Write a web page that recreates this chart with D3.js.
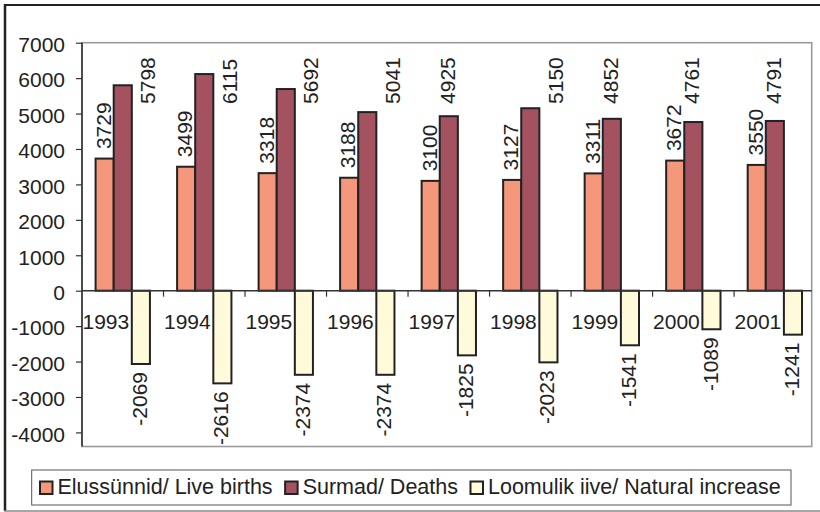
<!DOCTYPE html>
<html>
<head>
<meta charset="utf-8">
<script src="https://cdn.jsdelivr.net/npm/d3@7"></script>
<style>
  html, body { margin: 0; padding: 0; background: #fff; }
  svg { display: block; }
  text { font-family: "Liberation Sans", Arial, sans-serif; fill: #222; }
</style>
</head>
<body>
<svg id="chart" width="820" height="512"></svg>
<script>
const years = ["1993", "1994", "1995", "1996", "1997", "1998", "1999", "2000", "2001"];
const liveBirths = [3729, 3499, 3318, 3188, 3100, 3127, 3311, 3672, 3550];
const deaths = [5798, 6115, 5692, 5041, 4925, 5150, 4852, 4761, 4791];
const naturalIncrease = [-2069, -2616, -2374, -2374, -1825, -2023, -1541, -1089, -1241];
const yTickValues = [-4000, -3000, -2000, -1000, 0, 1000, 2000, 3000, 4000, 5000, 6000, 7000];
const seriesKeys = ["births", "deaths", "natural"];
const seriesNames = ["Elussünnid/ Live births", "Surmad/ Deaths", "Loomulik iive/ Natural increase"];
const seriesColors = ["#F4977A", "#A4525F", "#FFFADA"];

const svg = d3.select("#chart");
const FS = 21;
const fmt = v => String(v); // plain hyphen-minus as in the reference

// outer frame
svg.append("line").attr("x1", 4).attr("x2", 820).attr("y1", 5).attr("y2", 5)
  .attr("stroke", "#222").attr("stroke-width", 2);
svg.append("line").attr("x1", 5).attr("x2", 5).attr("y1", 4).attr("y2", 511)
  .attr("stroke", "#222").attr("stroke-width", 2.5);
svg.append("line").attr("x1", 4).attr("x2", 820).attr("y1", 511).attr("y2", 511)
  .attr("stroke", "#888").attr("stroke-width", 1.5);

// scales
const y = d3.scaleLinear().domain([-4000, 7000]).range([432.4, 42.7]);
const x0 = d3.scaleBand().domain(years).range([82, 815.6]).paddingInner(0).paddingOuter(0);
const x1 = d3.scaleBand().domain(seriesKeys).range([0, x0.bandwidth()]).paddingInner(0).paddingOuter(0.75);
const bw = x1.bandwidth();

const plotLeft = 82, plotRight = 811.7, plotTop = 42.7, plotBottom = 446.5;

// plot area border (gray)
svg.append("rect").attr("x", plotLeft).attr("y", plotTop)
  .attr("width", plotRight - plotLeft).attr("height", plotBottom - plotTop)
  .attr("fill", "none").attr("stroke", "#9a9a9a").attr("stroke-width", 1.6);

// bars
const rows = years.map((yr, i) => ({
  year: yr,
  values: [
    { key: "births", v: liveBirths[i], color: seriesColors[0] },
    { key: "deaths", v: deaths[i], color: seriesColors[1] },
    { key: "natural", v: naturalIncrease[i], color: seriesColors[2] }
  ]
}));

const groups = svg.append("g").selectAll("g").data(rows).join("g")
  .attr("transform", d => `translate(${x0(d.year)},0)`);

groups.selectAll("rect").data(d => d.values).join("rect")
  .attr("x", d => x1(d.key))
  .attr("width", bw)
  .attr("y", d => y(Math.max(0, d.v)))
  .attr("height", d => Math.abs(y(d.v) - y(0)))
  .attr("fill", d => d.color)
  .attr("stroke", "#222")
  .attr("stroke-width", 2);

// y axis
const yAxis = d3.axisLeft(y).tickValues(yTickValues).tickSize(6).tickPadding(11).tickFormat(fmt);
const yg = svg.append("g").attr("transform", `translate(${plotLeft},0)`).call(yAxis);
yg.select(".domain").remove();
yg.selectAll(".tick line").attr("stroke", "#333").attr("stroke-width", 1.2);
yg.selectAll(".tick text").attr("font-size", FS).attr("fill", "#222")
  .style("font-family", '"Liberation Sans", Arial, sans-serif').attr("dy", "0.42em");
svg.append("line").attr("x1", plotLeft).attr("x2", plotLeft).attr("y1", plotTop).attr("y2", plotBottom)
  .attr("stroke", "#333").attr("stroke-width", 1.6);

// x axis (at zero)
svg.append("line").attr("x1", plotLeft).attr("x2", plotRight).attr("y1", y(0)).attr("y2", y(0))
  .attr("stroke", "#333").attr("stroke-width", 1.4);
svg.append("g").selectAll("line").data(years.slice(1)).join("line")
  .attr("x1", d => x0(d)).attr("x2", d => x0(d))
  .attr("y1", y(0)).attr("y2", y(0) + 6)
  .attr("stroke", "#333").attr("stroke-width", 1.2);
svg.append("g").selectAll("text").data(years).join("text")
  .attr("x", d => x0(d) + 0.5)
  .attr("y", y(0) + 38.5)
  .attr("font-size", FS)
  .text(d => d);

// value labels
const labelG = svg.append("g");
rows.forEach(r => {
  const gx = x0(r.year);
  r.values.forEach(d => {
    const cx = gx + x1(d.key) + bw / 2 - 1.5;
    let lx = cx, ly, anchor;
    if (d.key === "births") {
      ly = y(d.v) - 9.5; anchor = "start";
    } else if (d.key === "deaths") {
      ly = y(5300) + 1;
      anchor = "start";
      if (y(d.v) < ly + 12) lx = cx + 1.45 * bw;
    } else {
      ly = y(d.v) + 8; anchor = "end";
    }
    labelG.append("text")
      .attr("transform", `translate(${lx},${ly}) rotate(-90)`)
      .attr("text-anchor", anchor)
      .attr("dy", "0.36em")
      .attr("font-size", FS)
      .text(fmt(d.v));
  });
});

// legend
const lg = svg.append("g");
lg.append("rect").attr("x", 31.7).attr("y", 470).attr("width", 759.3).attr("height", 35)
  .attr("fill", "#fff").attr("stroke", "#555").attr("stroke-width", 1);
let lx = 40;
seriesNames.forEach((name, i) => {
  lg.append("rect").attr("x", lx).attr("y", 481.5).attr("width", 12.5).attr("height", 12.5)
    .attr("fill", seriesColors[i]).attr("stroke", "#222").attr("stroke-width", 2);
  const t = lg.append("text").attr("x", lx + 17.5).attr("y", 494.3)
    .attr("font-size", 21.5).text(name);
  lx = lx + 17.5 + t.node().getComputedTextLength() + 12.5;
});
</script>
</body>
</html>
